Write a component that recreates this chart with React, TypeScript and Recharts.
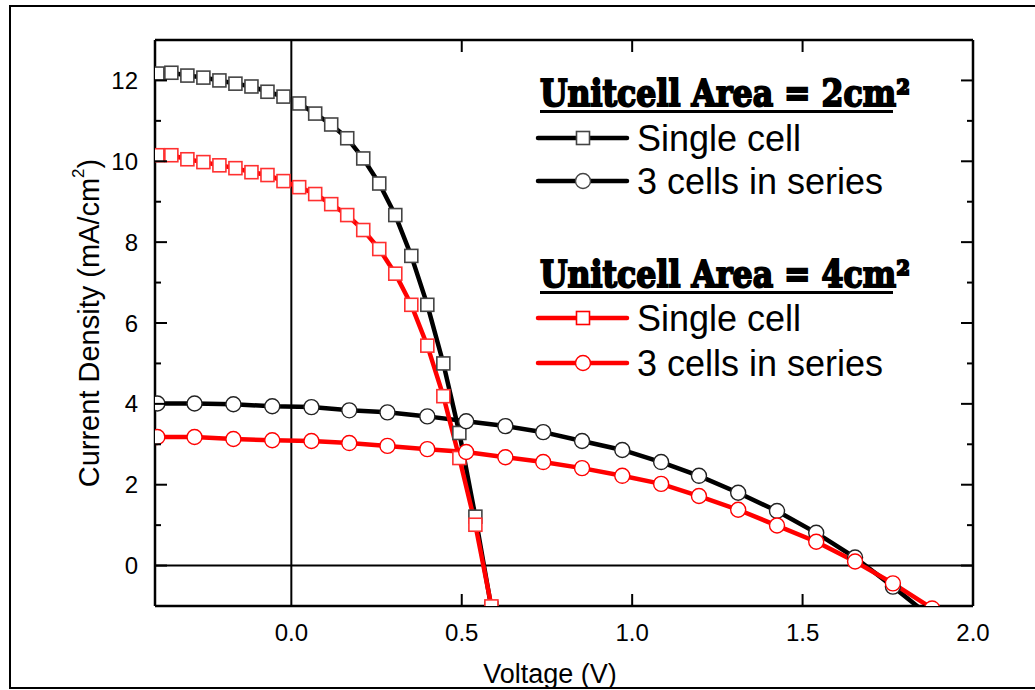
import { Legend, Line, LineChart, ReferenceLine, XAxis, YAxis } from "recharts"

// voltage (V) of the square-marker sweeps
const squareVoltage = [
  -0.393, -0.352, -0.305, -0.258, -0.211, -0.164, -0.117, -0.07, -0.023, 0.023, 0.07,
  0.117, 0.164, 0.211, 0.258, 0.305, 0.352, 0.399, 0.446, 0.493, 0.54, 0.587,
]
// current density (mA/cm2)
const single2cm = [
  12.17, 12.19, 12.12, 12.07, 12.0, 11.92, 11.85, 11.72, 11.6, 11.43, 11.18, 10.91,
  10.57, 10.07, 9.45, 8.67, 7.66, 6.45, 5.0, 3.28, 1.21, -1.05,
]
const single4cm = [
  10.15, 10.15, 10.05, 9.98, 9.9, 9.83, 9.73, 9.66, 9.51, 9.36, 9.19, 8.94, 8.67, 8.3,
  7.83, 7.22, 6.45, 5.44, 4.19, 2.66, 1.01, -1.01,
]

const circleVoltage = [
  -0.393, -0.284, -0.17, -0.056, 0.059, 0.17, 0.282, 0.399, 0.513, 0.628, 0.739, 0.853,
  0.971, 1.085, 1.196, 1.311, 1.425, 1.54, 1.654, 1.765, 1.88,
]
const series2cm = [
  4.01, 4.01, 3.99, 3.94, 3.92, 3.84, 3.79, 3.69, 3.57, 3.45, 3.3, 3.08, 2.86, 2.56, 2.22,
  1.8, 1.35, 0.81, 0.2, -0.52, -1.3,
]
const series4cm = [
  3.18, 3.18, 3.13, 3.1, 3.08, 3.03, 2.96, 2.88, 2.81, 2.68, 2.56, 2.41, 2.22, 2.02, 1.72,
  1.38, 0.99, 0.59, 0.1, -0.44, -1.06,
]

const xDomain = [-0.4, 2.0]
const yDomain = [-1, 13]
const xTicks = [0, 0.5, 1.0, 1.5, 2.0]
const yMajorTicks = [0, 2, 4, 6, 8, 10, 12]
const yMinorTicks = [1, 3, 5, 7, 9, 11]
const yTicks = [...yMajorTicks, ...yMinorTicks].sort((a, b) => a - b)

const legendGroups = [
  { area: "2", color: "#000000", edge: "#444444", labels: ["Single cell", "3 cells in series"] },
  { area: "4", color: "#ff0000", edge: "#ff0000", labels: ["Single cell", "3 cells in series"] },
]

const toPoints = (vs: number[], js: number[]) => vs.map((v, i) => ({ v, j: js[i] }))

const FONT = "'Liberation Sans', Arial, sans-serif"
const AXIS = { stroke: "#000", strokeWidth: 2.5 }

function SquareDot({ cx, cy, edge }: any) {
  if (cx == null || cy == null) return null
  return <rect x={cx - 6.5} y={cy - 6.5} width={13} height={13} fill="#fff" stroke={edge} strokeWidth={1.6} />
}

function CircleDot({ cx, cy, edge }: any) {
  if (cx == null || cy == null) return null
  return <circle cx={cx} cy={cy} r={7.5} fill="#fff" stroke={edge} strokeWidth={1.4} />
}

function BottomTick({ x, y, payload }: any) {
  const v = payload.value
  return (
    <g>
      {v > 0 && v < 2 && <line x1={x} x2={x} y1={y} y2={y - 12} stroke="#000" strokeWidth={2} />}
      <text x={x} y={y + 26} textAnchor="middle" dominantBaseline="central" fontSize={24} fontFamily={FONT} fill="#000">
        {v.toFixed(1)}
      </text>
    </g>
  )
}

function TopTick({ x, y, payload }: any) {
  const v = payload.value
  if (!(v > 0 && v < 2)) return null
  return <line x1={x} x2={x} y1={y} y2={y + 12} stroke="#000" strokeWidth={2} />
}

function LeftTick({ x, y, payload }: any) {
  const v = payload.value
  const major = yMajorTicks.includes(v)
  return (
    <g>
      <line x1={x} x2={x + (major ? 12 : 6)} y1={y} y2={y} stroke="#000" strokeWidth={2} />
      {major && (
        <text x={x - 17} y={y} textAnchor="end" dominantBaseline="central" fontSize={24} fontFamily={FONT} fill="#000">
          {v}
        </text>
      )}
    </g>
  )
}

function RightTick({ x, y, payload }: any) {
  const major = yMajorTicks.includes(payload.value)
  return <line x1={x} x2={x - (major ? 12 : 6)} y1={y} y2={y} stroke="#000" strokeWidth={2} />
}

function XTitle({ viewBox }: any) {
  const cx = viewBox.x + viewBox.width / 2 - 14
  return (
    <text x={cx} y={viewBox.y + 77} textAnchor="middle" fontSize={27} fontFamily={FONT} fill="#000">
      Voltage (V)
    </text>
  )
}

function YTitle({ viewBox }: any) {
  const cx = viewBox.x - 6
  const cy = viewBox.y + viewBox.height / 2
  return (
    <text
      x={cx}
      y={cy}
      transform={`rotate(-90, ${cx}, ${cy})`}
      textAnchor="middle"
      dominantBaseline="central"
      fontSize={29}
      fontFamily={FONT}
      fill="#000"
    >
      Current Density (mA/cm
      <tspan fontSize={17} dy={-11}>2</tspan>
      <tspan dy={11}>)</tspan>
    </text>
  )
}

function LegendBox() {
  const rowY = [[138, 181], [318, 363]]
  const titleY = [106, 287]
  return (
    <svg width={440} height={340} style={{ overflow: "visible" }}>
      <g transform="translate(-520,-60)">
        {legendGroups.map((g, gi) => (
          <g key={g.area}>
            <text
              x={540}
              y={titleY[gi]}
              fontSize={37}
              fontWeight={900}
              fontFamily="'DejaVu Serif', serif"
              textLength={370}
              lengthAdjust="spacingAndGlyphs"
              stroke="#000"
              strokeWidth={2}
              fill="#000"
            >
              {`Unitcell Area = ${g.area}cm²`}
            </text>
            <line x1={540} x2={893} y1={titleY[gi] + 5.5} y2={titleY[gi] + 5.5} stroke="#000" strokeWidth={3} />
            {g.labels.map((label, li) => {
              const y = rowY[gi][li]
              return (
                <g key={label}>
                  <line x1={538} x2={627} y1={y} y2={y} stroke={g.color} strokeWidth={4.5} strokeLinecap="round" />
                  {li === 0 ? <SquareDot cx={583} cy={y} edge={g.edge} /> : <CircleDot cx={583} cy={y} edge={g.edge} />}
                  <text x={637} y={y} dominantBaseline="central" fontSize={36} fontFamily={FONT} fill="#000">
                    {label}
                  </text>
                </g>
              )
            })}
          </g>
        ))}
      </g>
    </svg>
  )
}

export default function App() {
  return (
    <div style={{ position: "absolute", left: 0, top: 0, width: 1035, height: 690, background: "#fff" }}>
      <LineChart width={1035} height={690} margin={{ top: 30, right: 52, bottom: 34, left: 95 }}>
        <XAxis
          dataKey="v"
          type="number"
          domain={xDomain}
          ticks={xTicks}
          interval={0}
          allowDataOverflow
          axisLine={AXIS}
          tickLine={false}
          tickSize={0}
          tickMargin={0}
          tick={<BottomTick />}
          height={50}
          label={<XTitle />}
        />
        <XAxis
          xAxisId="top"
          orientation="top"
          dataKey="v"
          type="number"
          domain={xDomain}
          ticks={xTicks}
          interval={0}
          allowDataOverflow
          axisLine={AXIS}
          tickLine={false}
          tickSize={0}
          tickMargin={0}
          tick={<TopTick />}
          height={10}
        />
        <YAxis
          type="number"
          domain={yDomain}
          ticks={yTicks}
          interval={0}
          allowDataOverflow
          axisLine={AXIS}
          tickLine={false}
          tickSize={0}
          tickMargin={0}
          tick={<LeftTick />}
          width={60}
          label={<YTitle />}
        />
        <YAxis
          yAxisId="right"
          orientation="right"
          type="number"
          domain={yDomain}
          ticks={yTicks}
          interval={0}
          allowDataOverflow
          axisLine={AXIS}
          tickLine={false}
          tickSize={0}
          tickMargin={0}
          tick={<RightTick />}
          width={10}
        />
        <ReferenceLine x={0} stroke="#000" strokeWidth={2} />
        <ReferenceLine y={0} stroke="#000" strokeWidth={2} />
        <Line
          data={toPoints(squareVoltage, single2cm)}
          dataKey="j"
          type="linear"
          stroke="#000"
          strokeWidth={4.5}
          dot={<SquareDot edge="#444" />}
          isAnimationActive={false}
        />
        <Line
          data={toPoints(circleVoltage, series2cm)}
          dataKey="j"
          type="linear"
          stroke="#000"
          strokeWidth={4.5}
          dot={<CircleDot edge="#222" />}
          isAnimationActive={false}
        />
        <Line
          data={toPoints(squareVoltage, single4cm)}
          dataKey="j"
          type="linear"
          stroke="#ff0000"
          strokeWidth={4.5}
          dot={<SquareDot edge="#ff3030" />}
          isAnimationActive={false}
        />
        <Line
          data={toPoints(circleVoltage, series4cm)}
          dataKey="j"
          type="linear"
          stroke="#ff0000"
          strokeWidth={4.5}
          dot={<CircleDot edge="#ff0000" />}
          isAnimationActive={false}
        />
        <Legend
          layout="vertical"
          align="center"
          verticalAlign="middle"
          content={() => <LegendBox />}
          wrapperStyle={{ left: 520, top: 60, width: 440, height: 340 }}
        />
      </LineChart>
      <div
        style={{
          position: "absolute",
          left: 9,
          top: 5,
          width: 1040,
          height: 680,
          border: "2.5px solid #000",
          pointerEvents: "none",
        }}
      />
    </div>
  )
}
